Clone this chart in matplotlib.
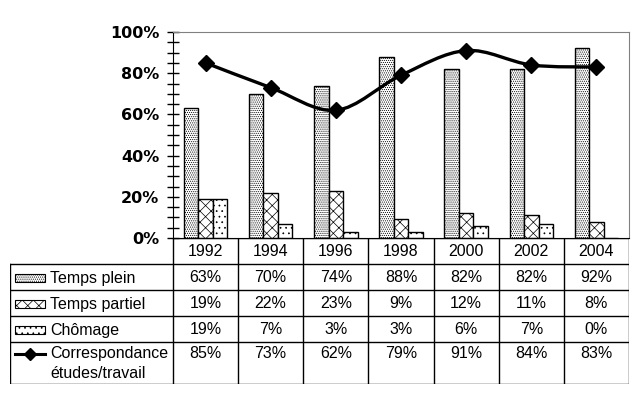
import matplotlib
matplotlib.use("Agg")
import matplotlib.pyplot as plt
import numpy as np
from matplotlib.path import Path
from matplotlib.patches import PathPatch, Rectangle
from matplotlib.lines import Line2D

years = ["1992", "1994", "1996", "1998", "2000", "2002", "2004"]
temps_plein = [63, 70, 74, 88, 82, 82, 92]
temps_partiel = [19, 22, 23, 9, 12, 11, 8]
chomage = [19, 7, 3, 3, 6, 7, 0]
correspondance = [85, 73, 62, 79, 91, 84, 83]

series_names = ["Temps plein", "Temps partiel", "Chômage",
                "Correspondance\nétudes/travail"]
hatches = ["........", "xxx", "..."]

plt.rcParams["hatch.linewidth"] = 0.5
plt.rcParams["font.family"] = "Liberation Sans"

W, H = 639, 399
fig = plt.figure(figsize=(W / 100, H / 100), dpi=100)

def px_axes(x0, y0, x1, y1):
    # pixel box (top-left origin) -> figure axes
    return fig.add_axes([x0 / W, 1 - y1 / H, (x1 - x0) / W, (y1 - y0) / H])

# ---- chart ----
ax = px_axes(173, 32, 629, 238)
x = np.arange(len(years))
bw = 0.222
for i, (vals, h) in enumerate(zip([temps_plein, temps_partiel, chomage], hatches)):
    ax.bar(x + (i - 1) * bw, vals, bw, facecolor="white", edgecolor="black",
           hatch=h, linewidth=1)

# smoothed line (Catmull-Rom -> cubic Bezier)
pts = np.column_stack([x, correspondance]).astype(float)
verts = [pts[0]]
codes = [Path.MOVETO]
for i in range(len(pts) - 1):
    p0 = pts[max(i - 1, 0)]
    p1 = pts[i]
    p2 = pts[i + 1]
    p3 = pts[min(i + 2, len(pts) - 1)]
    c1 = p1 + (p2 - p0) / 6
    c2 = p2 - (p3 - p1) / 6
    verts += [c1, c2, p2]
    codes += [Path.CURVE4] * 3
ax.add_patch(PathPatch(Path(verts, codes), facecolor="none",
                       edgecolor="black", linewidth=2.4, zorder=4))
ax.plot(x, correspondance, linestyle="none", marker="D", color="black",
        markersize=8.5, zorder=5)

ax.set_xlim(-0.5, len(years) - 0.5)
ax.set_ylim(0, 100)
ax.set_yticks(range(0, 101, 20))
ax.set_yticks(range(0, 101, 5), minor=True)
ax.set_yticklabels([f"{v}%" for v in range(0, 101, 20)],
                   fontfamily="DejaVu Sans", fontweight="bold", fontsize=11.5)
ax.tick_params(axis="y", which="both", direction="inout", length=8, width=1,
               pad=6)
ax.set_xticks([])
for s in ["top", "right"]:
    ax.spines[s].set_color("#808080")
ax.spines["left"].set_color("black")
ax.spines["bottom"].set_color("black")

# ---- data table ----
tb = px_axes(10, 238, 629, 384)
tb.set_xlim(-3.0, len(years) - 0.5)
tb.set_ylim(146, 0)
tb.axis("off")
row_edges = [0, 26, 52, 78, 104, 146]
lw = 1
# horizontal lines
tb.plot([-0.5, len(years) - 0.5], [0, 0], color="black", lw=lw)
for y in row_edges[1:]:
    tb.plot([-3.0, len(years) - 0.5], [y, y], color="black", lw=lw)
# vertical lines
for xv in np.arange(-0.5, len(years), 1.0):
    tb.plot([xv, xv], [0, 146], color="black", lw=lw)
tb.plot([-3.0, -3.0], [26, 146], color="black", lw=lw)

fs = 11.5
for j, yr in enumerate(years):
    tb.text(j, 14, yr, ha="center", va="center", fontsize=fs)

table_rows = [temps_plein, temps_partiel, chomage, correspondance]
for r, vals in enumerate(table_rows):
    top = row_edges[r + 1]
    ty = top + 14 if r < 3 else top + 12
    for j, v in enumerate(vals):
        tb.text(j, ty, f"{v}%", ha="center", va="center", fontsize=fs)
    if r < 3:
        tb.text(-2.38, ty, series_names[r], ha="left", va="center", fontsize=fs)
        tb.add_patch(Rectangle((-2.92, ty - 4), 0.46, 8, facecolor="white",
                               edgecolor="black", hatch=hatches[r], lw=0.8))
    else:
        tb.text(-2.38, top + 4, series_names[r], ha="left", va="top",
                fontsize=fs, linespacing=1.4)
        tb.add_line(Line2D([-2.92, -2.46], [ty, ty], color="black", lw=2.2))
        tb.plot([-2.69], [ty], marker="D", color="black", markersize=6)

fig.savefig("out.png", dpi=100)
